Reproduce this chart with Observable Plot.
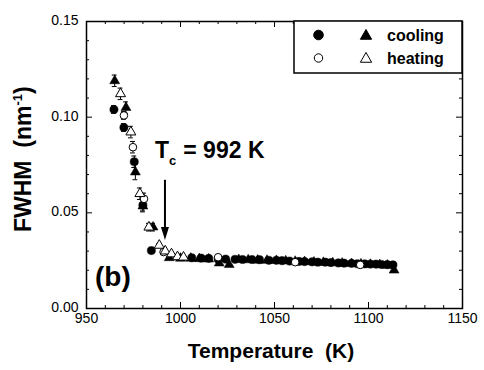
<!DOCTYPE html>
<html><head><meta charset="utf-8">
<script src="https://cdn.jsdelivr.net/npm/d3@7"></script>
<script src="https://cdn.jsdelivr.net/npm/@observablehq/plot@0.6"></script>
<style>body{margin:0;background:#fff} svg{display:block}</style>
</head><body><div id="chart"></div>
<script>
// ---- data ----
const coolCircT = [964.6, 969.9, 975.4, 980.0, 984.5, 1006, 1011, 1015, 1020, 1024, 1029, 1033, 1038, 1042, 1047, 1051, 1054, 1058, 1063, 1066, 1070, 1073, 1077, 1080, 1084, 1087, 1091, 1094, 1098, 1101, 1104, 1107, 1110, 1113];
const coolCircV = [0.104, 0.0946, 0.0767, 0.054, 0.0303, 0.0265, 0.0263, 0.0262, 0.0258, 0.0258, 0.0257, 0.0256, 0.0256, 0.0255, 0.0252, 0.0252, 0.025, 0.0248, 0.0246, 0.0245, 0.0244, 0.0242, 0.0242, 0.024, 0.0238, 0.0237, 0.0236, 0.0234, 0.0233, 0.0232, 0.0232, 0.023, 0.0229, 0.0228];
const coolCircErr = [0.002, 0.002, 0.003, 0.003, 0.001];

const coolTriT = [965, 971, 976, 980, 985.4, 994, 1000, 1005.5, 1010, 1015, 1020.6, 1025.9, 1031, 1036, 1041, 1046, 1051, 1056, 1061, 1066, 1071, 1076, 1081, 1086, 1091, 1096, 1101, 1106, 1110, 1113.6];
const coolTriV = [0.119, 0.105, 0.0713, 0.0535, 0.0425, 0.0265, 0.0262, 0.0262, 0.026, 0.0258, 0.0237, 0.0229, 0.0255, 0.0254, 0.0252, 0.0251, 0.025, 0.0248, 0.0246, 0.0244, 0.0242, 0.024, 0.0238, 0.0236, 0.0234, 0.0232, 0.023, 0.0228, 0.0226, 0.0200];
const coolTriErr = [0.003, 0.003, 0.004, 0.003, 0.002];

const heatCircT = [969.9, 974.7, 980.6, 991, 1020, 1061, 1095.6];
const heatCircV = [0.1009, 0.0843, 0.0573, 0.0295, 0.0268, 0.0242, 0.0228];
const heatCircErr = [0.002, 0.003, 0.003, 0.001];

const heatTriT = [968.1, 973.6, 978.4, 983.2, 988.7, 991.9, 995.2, 998.4, 1001.6];
const heatTriV = [0.1122, 0.0922, 0.06, 0.0425, 0.033, 0.030, 0.0285, 0.027, 0.0268];
const heatTriErr = [0.003, 0.003, 0.003, 0.002, 0.001];

const xTicks = [950, 1000, 1050, 1100, 1150];
const yTicks = [0.00, 0.05, 0.10, 0.15];
const seriesNames = ["cooling", "heating"];
const TcValue = 992;
const TcTop = 0.067, TcTip = 0.0355;

// ---- layout ----
const W = 484, H = 370;
const mL = 86, mR = 22, mT = 21, mB = 62;
const innerW = W - mL - mR, innerH = H - mT - mB;
const FONT = "'Liberation Sans', Arial, Helvetica, sans-serif";

const rows = (T, V, E) => T.map((t, i) => ({T: t, v: V[i], e: E[i] ?? 0}));
const coolC = rows(coolCircT, coolCircV, coolCircErr);
const coolT = rows(coolTriT, coolTriV, coolTriErr);
const heatC = rows(heatCircT, heatCircV, heatCircErr);
const heatT = rows(heatTriT, heatTriV, heatTriErr);
const allRows = [...coolC, ...coolT, ...heatC, ...heatT].filter(d => d.e > 0);

const xMinor = d3.range(950, 1151, 10).filter(d => !xTicks.includes(d));
const yMinor = d3.range(1, 15).filter(i => i % 5 !== 0).map(i => i / 100);

const MAJ = 6, MIN = 3;

const chart = Plot.plot({
  width: W, height: H,
  marginLeft: mL, marginRight: mR, marginTop: mT, marginBottom: mB,
  style: {fontFamily: FONT, fontSize: "14px", background: "#fff", color: "#000"},
  x: {domain: [950, 1150]},
  y: {domain: [0, 0.15]},
  marks: [
    Plot.axisX({ticks: xTicks, tickSize: 0, tickPadding: 5, label: null, tickFormat: d => String(d), fontSize: 14}),
    Plot.axisY({ticks: yTicks, tickSize: 0, tickPadding: 8, label: null, tickFormat: d3.format(".2f"), fontSize: 14, dy: -1}),
    // inward ticks on all four sides
    Plot.ruleX(xTicks, {x: d => d, insetTop: innerH - MAJ, stroke: "#000", strokeWidth: 1}),
    Plot.ruleX(xTicks, {x: d => d, insetBottom: innerH - MAJ, stroke: "#000", strokeWidth: 1}),
    Plot.ruleX(xMinor, {x: d => d, insetTop: innerH - MIN, stroke: "#000", strokeWidth: 1}),
    Plot.ruleX(xMinor, {x: d => d, insetBottom: innerH - MIN, stroke: "#000", strokeWidth: 1}),
    Plot.ruleY(yTicks, {y: d => d, insetRight: innerW - MAJ, stroke: "#000", strokeWidth: 1}),
    Plot.ruleY(yTicks, {y: d => d, insetLeft: innerW - MAJ, stroke: "#000", strokeWidth: 1}),
    Plot.ruleY(yMinor, {y: d => d, insetRight: innerW - MIN, stroke: "#000", strokeWidth: 1}),
    Plot.ruleY(yMinor, {y: d => d, insetLeft: innerW - MIN, stroke: "#000", strokeWidth: 1}),
    // error bars
    Plot.ruleX(allRows, {x: "T", y1: d => d.v - d.e, y2: d => d.v + d.e, stroke: "#000", strokeWidth: 1}),
    Plot.ruleY(allRows, {y: d => d.v + d.e, x1: d => d.T - 1.3, x2: d => d.T + 1.3, stroke: "#000", strokeWidth: 1}),
    Plot.ruleY(allRows, {y: d => d.v - d.e, x1: d => d.T - 1.3, x2: d => d.T + 1.3, stroke: "#000", strokeWidth: 1}),
    // data
    Plot.dot(coolC, {x: "T", y: "v", r: 4.1, symbol: "circle", fill: "#000", stroke: "#000", strokeWidth: 0.5}),
    Plot.dot(coolT, {x: "T", y: "v", r: 3.7, symbol: "triangle", fill: "#000", stroke: "#000", strokeWidth: 0.5}),
    Plot.dot(heatC, {x: "T", y: "v", r: 3.8, symbol: "circle", fill: "#fff", stroke: "#000", strokeWidth: 1}),
    Plot.dot(heatT, {x: "T", y: "v", r: 3.7, symbol: "triangle", fill: "#fff", stroke: "#000", strokeWidth: 1}),
    Plot.frame({stroke: "#000", strokeWidth: 1.5})
  ]
});

const svg = d3.select(chart);
const sx = v => chart.scale("x").apply(v);
const sy = v => chart.scale("y").apply(v);

// Tc arrow
const ax = sx(TcValue);
svg.append("line").attr("x1", ax).attr("x2", ax).attr("y1", sy(TcTop)).attr("y2", sy(TcTip) - 10)
  .attr("stroke", "#000").attr("stroke-width", 2);
svg.append("path")
  .attr("d", `M${ax},${sy(TcTip)} L${ax - 4},${sy(TcTip) - 13} L${ax + 4},${sy(TcTip) - 13} Z`)
  .attr("fill", "#000");

// Tc label
const tc = svg.append("text").attr("x", 155).attr("y", 158).attr("text-anchor", "start")
  .attr("font-family", FONT).attr("font-weight", "bold").attr("font-size", 23).attr("fill", "#000");
tc.append("tspan").text("T");
tc.append("tspan").attr("dy", 7).attr("font-size", 13).text("c");
tc.append("tspan").attr("dy", -7).attr("dx", 7).text(`= ${TcValue} K`);

// (b)
svg.append("text").attr("x", 95).attr("y", 286).attr("text-anchor", "start")
  .attr("font-family", FONT).attr("font-weight", "bold")
  .attr("font-size", 28).attr("fill", "#000").text("(b)");

// axis titles
svg.append("text").attr("x", 271).attr("y", 358).attr("text-anchor", "middle")
  .attr("font-family", FONT).attr("font-weight", "bold").attr("font-size", 21).attr("fill", "#000")
  .style("white-space", "pre").text("Temperature  (K)");
const yl = svg.append("text").attr("transform", "translate(31,232) rotate(-90)").attr("text-anchor", "start")
  .attr("font-family", FONT).attr("font-weight", "bold").attr("font-size", 23).attr("fill", "#000")
  .style("white-space", "pre");
yl.append("tspan").text("FWHM  (nm");
yl.append("tspan").attr("dy", -9).attr("font-size", 13).text("-1");
yl.append("tspan").attr("dy", 9).text(")");

// legend
const lg = svg.append("g");
lg.append("rect").attr("x", 294).attr("y", mT).attr("width", W - mR - 294).attr("height", 52)
  .attr("fill", "#fff").attr("stroke", "#000").attr("stroke-width", 1.5);
const circF = d3.symbol(d3.symbolCircle, Math.PI * 4.8 * 4.8)();
const circO = d3.symbol(d3.symbolCircle, Math.PI * 4.2 * 4.2)();
const tri = d3.symbol(d3.symbolTriangle, 55)();
const legendRows = [
  {name: seriesNames[0], y: 35, fill: "#000", c: circF},
  {name: seriesNames[1], y: 58, fill: "#fff", c: circO}
];
legendRows.forEach(r => {
  lg.append("path").attr("d", r.c).attr("transform", `translate(318.5,${r.y})`)
    .attr("fill", r.fill).attr("stroke", "#000").attr("stroke-width", 1);
  lg.append("path").attr("d", tri).attr("transform", `translate(366,${r.y + 1})`)
    .attr("fill", r.fill).attr("stroke", "#000").attr("stroke-width", 1);
  lg.append("text").attr("x", 387).attr("y", r.y + 6).attr("text-anchor", "start")
    .attr("font-family", FONT).attr("font-weight", "bold")
    .attr("font-size", 16).attr("fill", "#000").text(r.name);
});

document.getElementById("chart").append(chart);
</script>
</body></html>
